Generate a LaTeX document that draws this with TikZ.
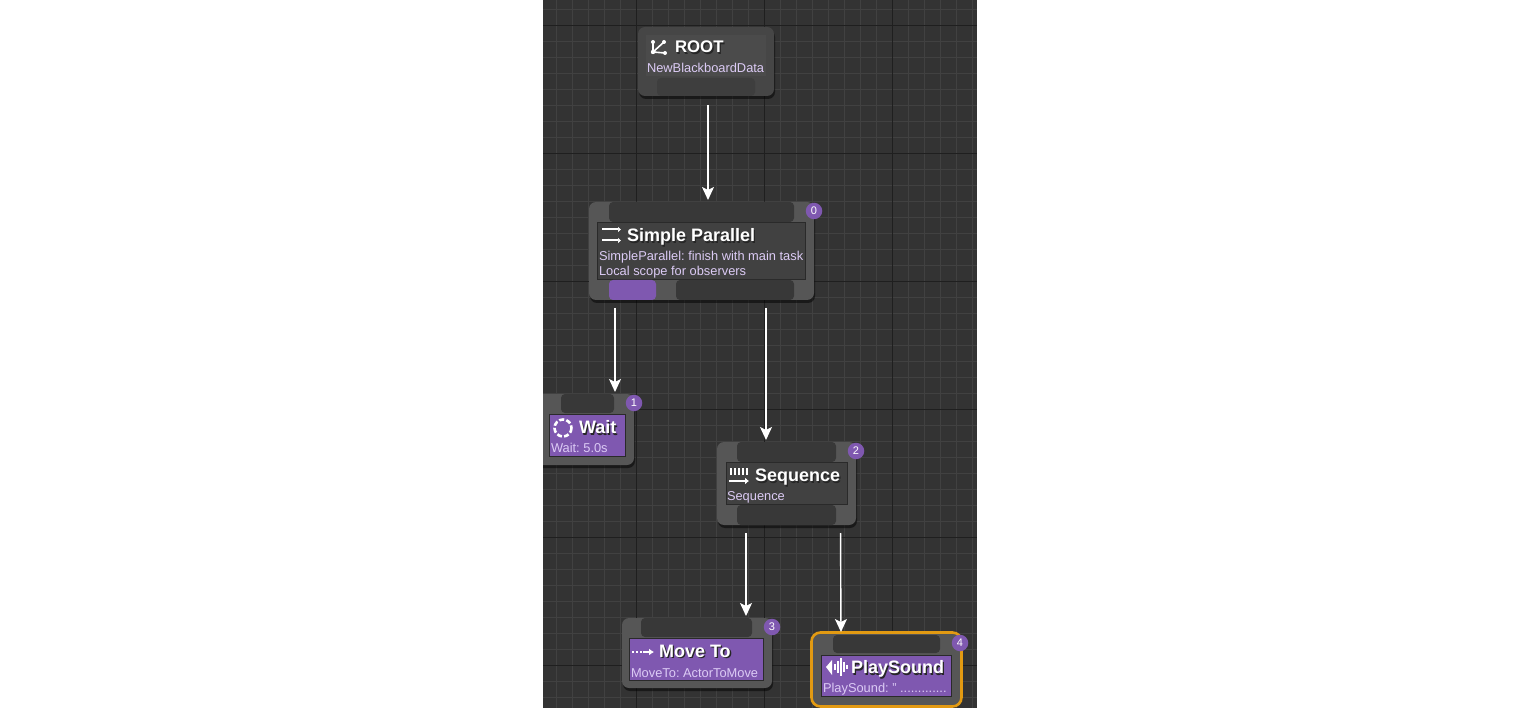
\documentclass[tikz,border=0pt]{standalone}
\usepackage{fontspec}
\setmainfont{Liberation Sans}
\usetikzlibrary{arrows.meta}
\frenchspacing
\definecolor{panel}{HTML}{333333}
\definecolor{minorline}{HTML}{414141}
\definecolor{majorline}{HTML}{1F1F1F}
\definecolor{shell}{HTML}{565656}
\definecolor{rootshell}{HTML}{464646}
\definecolor{rootin}{HTML}{4B4B4B}
\definecolor{rootpinc}{HTML}{3E3E3E}
\definecolor{pindark}{HTML}{383838}
\definecolor{innerdark}{HTML}{414141}
\definecolor{innerline}{HTML}{2A2A2A}
\definecolor{ue}{HTML}{7F58B0}
\definecolor{lav}{HTML}{DCCBF5}
\definecolor{amber}{HTML}{E29A12}
\newcommand{\shadowed}[1]{\rlap{\raisebox{-1.6pt}{\kern1.4pt\color{black!85}#1}}{\color{white}#1}}
\tikzset{
  x=1pt,y=-1pt,
  every node/.style={inner sep=0pt,outer sep=0pt,anchor=center},
  pinbox/.style={fill=pindark,rounded corners=4pt},
  innerbox/.style={fill=innerdark,draw=innerline,line width=1pt},
  taskbox/.style={fill=ue,draw=innerline,line width=1pt},
  titletext/.style={anchor=west,font=\bfseries\fontsize{18}{18}\selectfont},
  subtext/.style={anchor=west,text=lav,font=\fontsize{12.85}{15}\selectfont,align=left},
  badge/.style={circle,fill=ue,minimum size=16.5pt,text=white,font=\fontsize{11}{11}\selectfont},
  flow/.style={draw=white,line width=1.4pt,-{Stealth[length=13pt,width=12pt,inset=3pt]}},
  iconline/.style={draw=white,line width=1.6pt}
}
\newcommand{\nodeshell}[6]{% name x1 y1 x2 y2 fill
  \fill[black,opacity=.5,rounded corners=7pt] (#2+1,#3+3) rectangle (#4+1,#5+3);
  \fill[#6,rounded corners=7pt] (#2,#3) rectangle (#4,#5);
  \node[minimum width=#4pt-#2pt,minimum height=#5pt-#3pt] (#1) at ({(#2+#4)/2},{(#3+#5)/2}) {};
}
\newcommand{\bx}[6]{% name style x1 y1 x2 y2
  \node[#2,minimum width=#5pt-#3pt,minimum height=#6pt-#4pt] (#1) at ({(#3+#5)/2},{(#4+#6)/2}) {};
}
\begin{document}
\begin{tikzpicture}
\useasboundingbox (0,0) rectangle (1520,708);
\fill[white] (0,0) rectangle (1520,708);
\begin{scope}
\clip (543,0) rectangle (977,708);
\fill[panel] (543,0) rectangle (977,708);
% grid
\foreach \i in {0,...,28} \draw[minorline,line width=1pt] ({524.5+16*\i},0) -- ({524.5+16*\i},708);
\foreach \i in {0,...,44} \draw[minorline,line width=1pt] (543,{9.5+16*\i}) -- (977,{9.5+16*\i});
\foreach \xx in {636.5,764.5,892.5} \draw[majorline,line width=1pt] (\xx,0) -- (\xx,708);
\foreach \yy in {25.5,153.5,281.5,409.5,537.5,665.5} \draw[majorline,line width=1pt] (543,\yy) -- (977,\yy);

% ROOT
\nodeshell{root}{638}{27}{774}{96}{rootshell}
\bx{rootinner}{fill=rootin}{646}{35}{766}{76}
\bx{rootpin}{pinbox,fill=rootpinc}{657}{78}{755}{96}
\node[titletext,font=\bfseries\fontsize{16.8}{18}\selectfont] (roottitle) at (675,48) {\shadowed{ROOT}};
\node[subtext] (rootsub) at (647,68) {NewBlackboardData};
\draw[iconline] (653,42) -- (653,52) -- (665,53) (653,52) -- (664,42);
\fill[white] (653,42) circle (2) (653,52) circle (2.2) (665,53) circle (2) (664,42) circle (2);

% Simple Parallel
\nodeshell{sp}{589}{202}{814}{300}{shell}
\bx{sptop}{pinbox}{609}{202}{794}{222}
\bx{spinner}{innerbox}{597.5}{222.5}{805.5}{279.5}
\bx{spleft}{pinbox,fill=ue}{609}{280}{656}{300}
\bx{spright}{pinbox}{676}{280}{794}{300}
\node[titletext] (sptitle) at (627,238) {\shadowed{Simple Parallel}};
\node[subtext,anchor=north west] (spsub) at (599,251) {SimpleParallel: finish with main task\\Local scope for observers};
\draw[iconline,line width=2pt,-{Latex[length=3pt,width=6pt]}] (602,229.5) -- (621,229.5);
\draw[iconline,line width=2pt,-{Latex[length=3pt,width=6pt]}] (602,240.5) -- (621,240.5);
\node[badge] (b0) at (814,211) {0};

% Wait
\nodeshell{wait}{530}{394}{634}{465}{shell}
\bx{waittop}{pinbox}{561}{394}{614}{413}
\bx{waitinner}{taskbox}{549.5}{414.5}{625.5}{456.5}
\node[titletext] (waittitle) at (579,428) {\shadowed{Wait}};
\node[subtext] (waitsub) at (551,448) {Wait: 5.0s};
\draw[white,line width=2.6pt,dash pattern=on 5pt off 2.2pt] (563,428) circle (8.5);
\node[badge] (b1) at (634,403) {1};

% Sequence
\nodeshell{seq}{717}{442}{856}{525}{shell}
\bx{seqtop}{pinbox}{737}{442}{836}{462}
\bx{seqinner}{innerbox}{726.5}{462.5}{847.5}{504}
\bx{seqbot}{pinbox}{737}{505}{836}{525}
\node[titletext] (seqtitle) at (755,478) {\shadowed{Sequence}};
\node[subtext] (seqsub) at (727,497) {Sequence};
\foreach \xx in {731,735,739,743,747} \draw[iconline,line width=1.8pt] (\xx,468) -- (\xx,475);
\draw[iconline,line width=2.4pt,-{Latex[length=4pt,width=7pt]}] (729,481) -- (749,481);
\node[badge] (b2) at (856,451) {2};

% Move To
\nodeshell{move}{622}{618}{772}{688}{shell}
\bx{movetop}{pinbox}{641}{618}{752}{637}
\bx{moveinner}{taskbox}{629.5}{638.5}{763.5}{680.5}
\node[titletext] (movetitle) at (659,652) {\shadowed{Move To}};
\node[subtext] (movesub) at (631,673) {MoveTo: ActorToMove};
\draw[iconline,line width=2pt,dash pattern=on 2pt off 2pt] (632,652) -- (643,652);
\draw[iconline,line width=2.2pt,-{Latex[length=5pt,width=7pt]}] (643,652) -- (654,652);
\node[badge] (b3) at (772,627) {3};

% PlaySound
\fill[shell,rounded corners=9pt] (811,632) rectangle (962,707);
\draw[amber,line width=2.6pt,rounded corners=9pt] (811.5,632.5) rectangle (961.5,706.5);
\bx{playtop}{pinbox}{833}{635}{940}{653}
\bx{playinner}{taskbox}{821.5}{655.5}{951.5}{696}
\node[titletext] (playtitle) at (851,670) {\shadowed{PlaySound}};
\node[subtext] (playsub) at (823,689) {PlaySound: '' .............};
\fill[white] (826,667) -- (832,660) -- (832,675) -- cycle;
\foreach \xx/\hh in {835/3,838/6,841/9,844/5,847/2} \draw[iconline,line width=1.3pt] (\xx,{667-\hh}) -- (\xx,{667+\hh});
\node[badge] (b4) at (960,643) {4};

% connectors
\draw[flow,shorten <=9pt,shorten >=2pt] ([xshift=2pt]rootpin.south) -- ([xshift=6.5pt]sptop.north);
\draw[flow,shorten <=8pt,shorten >=2pt] ([xshift=-17.5pt]spleft.south) -- ([xshift=27.5pt]waittop.north);
\draw[flow,shorten <=8pt,shorten >=2pt] ([xshift=31pt]spright.south) -- ([xshift=-20.5pt]seqtop.north);
\draw[flow,shorten <=8pt,shorten >=2pt] ([xshift=-40.5pt]seqbot.south) -- ([xshift=49.5pt]movetop.north);
\draw[flow,shorten <=8pt,shorten >=3pt] ([xshift=54pt]seqbot.south) -- ([xshift=-45.5pt]playtop.north);
\end{scope}
\end{tikzpicture}
\end{document}
